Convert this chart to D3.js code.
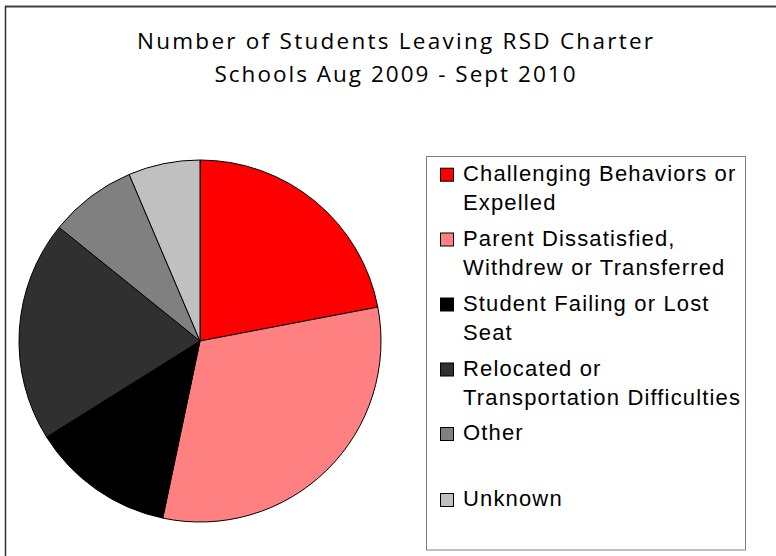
<!DOCTYPE html>
<html>
<head>
<meta charset="utf-8">
<script src="https://cdn.jsdelivr.net/npm/d3@7"></script>
<style>
  html, body { margin: 0; padding: 0; background: #fff; }
  svg { display: block; }
</style>
</head>
<body>
<svg id="chart" width="776" height="556"></svg>
<script>
const titleLines = ["Number of Students Leaving RSD Charter", "Schools Aug 2009 - Sept 2010"];
const categories = [
  "Challenging Behaviors or Expelled",
  "Parent Dissatisfied, Withdrew or Transferred",
  "Student Failing or Lost Seat",
  "Relocated or Transportation Difficulties",
  "Other",
  "Unknown"
];
const legendLines = [
  ["Challenging Behaviors or", "Expelled"],
  ["Parent Dissatisfied,", "Withdrew or Transferred"],
  ["Student Failing or Lost", "Seat"],
  ["Relocated or", "Transportation Difficulties"],
  ["Other", ""],
  ["Unknown"]
];
const values = [22.0, 31.3, 12.8, 19.7, 7.8, 6.4];
const colors = ["#ff0000", "#ff8080", "#000000", "#303030", "#808080", "#c0c0c0"];

const svg = d3.select("#chart");

// outer frame (top and left edges visible)
svg.append("line").attr("x1", 5).attr("x2", 776).attr("y1", 6.5).attr("y2", 6.5)
  .attr("stroke", "#404040").attr("stroke-width", 2);
svg.append("line").attr("x1", 5.5).attr("x2", 5.5).attr("y1", 6).attr("y2", 556)
  .attr("stroke", "#303030").attr("stroke-width", 1.5);

// title
const titleWidths = [516, 361];
svg.append("g").selectAll("text").data(titleLines).join("text")
  .attr("x", 395)
  .attr("y", (d, i) => 48.5 + i * 33)
  .attr("text-anchor", "middle")
  .attr("font-family", "'Open Sans', 'DejaVu Sans', sans-serif")
  .attr("font-size", 22.5)
  .attr("fill", "#000")
  .attr("textLength", (d, i) => titleWidths[i])
  .attr("lengthAdjust", "spacing")
  .text(d => d);

// pie
const cx = 200, cy = 341, r = 181;
const pie = d3.pie().sort(null).value(d => d).startAngle(0).endAngle(2 * Math.PI);
const arc = d3.arc().innerRadius(0).outerRadius(r);
const g = svg.append("g").attr("transform", `translate(${cx},${cy})`);
g.selectAll("path").data(pie(values)).join("path")
  .attr("d", arc)
  .attr("fill", (d, i) => colors[i])
  .attr("stroke", "#000")
  .attr("stroke-width", 1)
  .attr("stroke-linejoin", "round");

// legend
const lg = svg.append("g");
lg.append("rect").attr("x", 426.5).attr("y", 156.5).attr("width", 319).attr("height", 393.5)
  .attr("fill", "#fff").attr("stroke", "#808080").attr("stroke-width", 1);

const itemY = [180.7, 245.5, 310.5, 375.5, 440, 506];
const items = lg.selectAll("g.item").data(categories).join("g").attr("class", "item")
  .attr("transform", (d, i) => `translate(0,${itemY[i]})`);
items.append("rect")
  .attr("x", 440.5).attr("y", -12.5).attr("width", 13).attr("height", 13)
  .attr("fill", (d, i) => colors[i]).attr("stroke", "#000").attr("stroke-width", 1);
items.each(function(d, i) {
  d3.select(this).selectAll("text").data(legendLines[i]).join("text")
    .attr("x", 463)
    .attr("y", (t, j) => j * 29.5)
    .attr("font-family", "'Liberation Sans', Arial, sans-serif")
    .attr("font-size", 22)
    .attr("letter-spacing", 1.15)
    .attr("fill", "#000")
    .text(t => t);
});
</script>
</body>
</html>
